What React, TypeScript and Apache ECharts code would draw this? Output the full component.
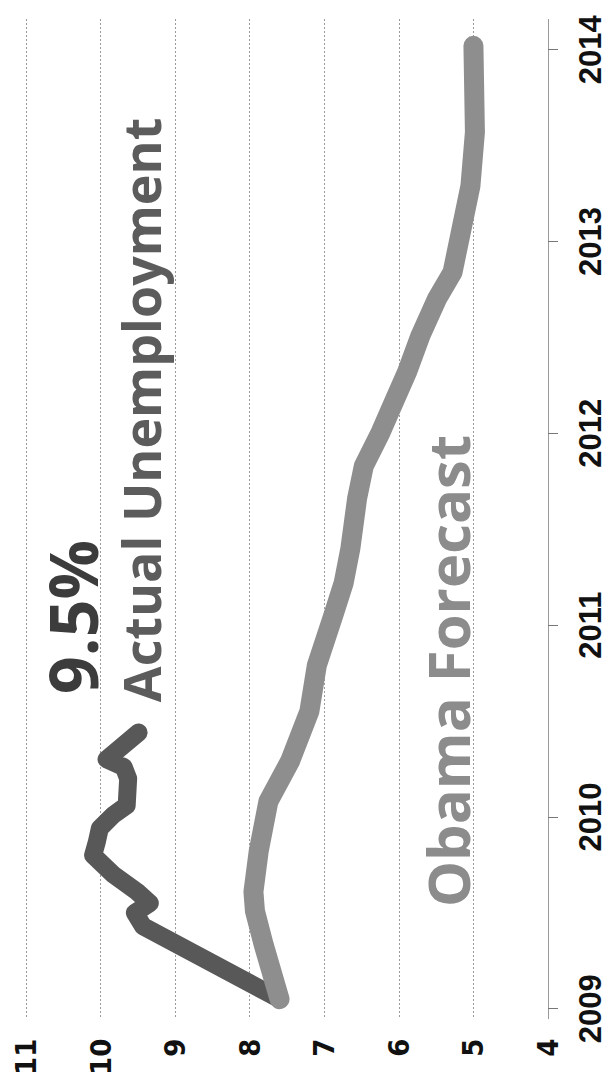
import React, { useEffect, useRef } from "react";
import * as echarts from "echarts";

// Values (unemployment %, horizontal axis, inverted) and times (decimal years, vertical axis)
const valueTicks = [4, 5, 6, 7, 8, 9, 10, 11];
const yearTicks = [2009, 2010, 2011, 2012, 2013, 2014];

const actualDates = [2009.05, 2009.43, 2009.5, 2009.55, 2009.61, 2009.7, 2009.8, 2009.87, 2009.94, 2010.01, 2010.06, 2010.2, 2010.26, 2010.3, 2010.44];
const actualValues = [7.6, 9.43, 9.54, 9.34, 9.51, 9.83, 10.1, 10.05, 10.01, 9.83, 9.65, 9.63, 9.69, 9.92, 9.49];

const forecastDates = [2009.05, 2009.33, 2009.51, 2009.61, 2009.82, 2010.08, 2010.29, 2010.55, 2010.79, 2011.05, 2011.22, 2011.4, 2011.66, 2011.83, 2012.0, 2012.16, 2012.32, 2012.51, 2012.7, 2012.84, 2013.29, 2013.57, 2014.02];
const forecastValues = [7.6, 7.81, 7.93, 7.95, 7.88, 7.75, 7.46, 7.2, 7.1, 6.88, 6.74, 6.65, 6.56, 6.47, 6.25, 6.07, 5.89, 5.71, 5.49, 5.28, 5.04, 4.98, 5.0];

const annotBig = "9.5%";
const annotActual = "Actual Unemployment";
const annotForecast = "Obama Forecast";

export default function App() {
  const ref = useRef<HTMLDivElement>(null);

  useEffect(() => {
    document.body.style.margin = "0";
    if (!ref.current) return;
    const chart = echarts.init(ref.current, null, { renderer: "svg" });

    const actual = actualDates.map((t, i) => [actualValues[i], t]);
    const forecast = forecastDates.map((t, i) => [forecastValues[i], t]);

    const annotFont = "'Open Sans', 'DejaVu Sans', sans-serif";

    chart.setOption({
      animation: false,
      backgroundColor: "#ffffff",
      grid: { left: 26, right: 63, top: 19, bottom: 58, containLabel: false },
      xAxis: {
        type: "value",
        inverse: true,
        min: 4,
        max: 11,
        interval: 1,
        position: "bottom",
        axisLine: { show: false },
        axisTick: { show: false },
        axisLabel: {
          rotate: 90,
          margin: 20,
          fontSize: 29,
          fontWeight: "bold",
          color: "#111",
          fontFamily: "'Liberation Sans Narrow', 'DejaVu Sans Condensed', sans-serif",
          customValues: valueTicks,
        },
        splitLine: {
          show: true,
          lineStyle: { color: "#9a9a9a", width: 1, type: [2, 2] },
        },
      },
      yAxis: {
        type: "value",
        position: "right",
        min: 2008.948,
        max: 2014.16,
        axisLine: {
          show: true,
          lineStyle: { color: "#9a9a9a", width: 1, type: [2, 2] },
        },
        axisTick: {
          show: true,
          inside: false,
          length: 10,
          customValues: yearTicks,
          lineStyle: { color: "#777", width: 1 },
        },
        axisLabel: {
          rotate: 90,
          margin: 27,
          fontSize: 31,
          fontWeight: "bold",
          color: "#111",
          fontFamily: "'Liberation Sans', Arial, sans-serif",
          customValues: yearTicks,
          formatter: (v: number) => String(Math.round(v)),
        },
        splitLine: { show: false },
      },
      series: [
        {
          type: "line",
          name: "Actual Unemployment",
          data: actual,
          showSymbol: false,
          lineStyle: { color: "#585858", width: 18, cap: "round", join: "round" },
          z: 3,
        },
        {
          type: "line",
          name: "Obama Forecast",
          data: forecast,
          showSymbol: false,
          lineStyle: { color: "#8e8e8e", width: 20, cap: "round", join: "round" },
          z: 4,
        },
      ],
      graphic: [
        {
          type: "text",
          x: 72,
          y: 617,
          rotation: Math.PI / 2,
          style: {
            text: annotBig,
            fontSize: 66,
            fontWeight: "bold",
            fontFamily: annotFont,
            fill: "#3c3c3c",
            align: "center",
            verticalAlign: "middle",
          },
        },
        {
          type: "text",
          x: 140,
          y: 410,
          rotation: Math.PI / 2,
          style: {
            text: annotActual,
            fontSize: 52,
            fontWeight: "bold",
            fontFamily: annotFont,
            fill: "#5c5c5c",
            align: "center",
            verticalAlign: "middle",
          },
        },
        {
          type: "text",
          x: 447,
          y: 671,
          rotation: Math.PI / 2,
          style: {
            text: annotForecast,
            fontSize: 58,
            fontWeight: "bold",
            fontFamily: annotFont,
            fill: "#8c8c8c",
            align: "center",
            verticalAlign: "middle",
          },
        },
      ],
    });

    return () => chart.dispose();
  }, []);

  return <div ref={ref} style={{ width: 611, height: 1078 }} />;
}
